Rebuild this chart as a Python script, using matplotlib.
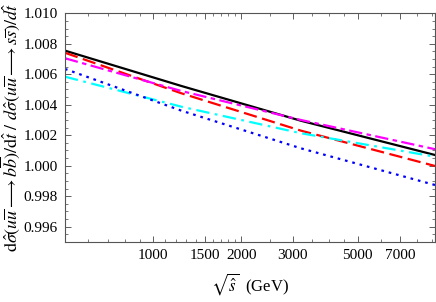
import numpy as np
import matplotlib
matplotlib.use('Agg')
import matplotlib.pyplot as plt
from matplotlib.ticker import FixedLocator, NullFormatter, MultipleLocator

plt.rcParams['font.family'] = 'Liberation Serif'
plt.rcParams['mathtext.fontset'] = 'stix'

# values
sqrt_s = [500, 1250, 3200, 9200]
black = [1.00755, 1.00523, 1.00295, 1.00070]
red = [1.00741, 1.00475, 1.00230, 0.99998]
magenta = [1.00705, 1.00490, 1.00300, 1.00108]
cyan = [1.00584, 1.00387, 1.00213, 1.00059]
blue = [1.00635, 1.00361, 1.00114, 0.99873]

x_major = [1000, 1500, 2000, 3000, 5000, 7000]
x_major_labels = ['1000', '1500', '2000', '3000', '5000', '7000']
x_minor = [600, 700, 800, 900, 1100, 1200, 1300, 1400, 1600, 1700, 1800, 1900,
           2500, 3500, 4000, 4500, 6000, 8000, 9000]

fig = plt.figure(figsize=(4.36, 3.02), dpi=100)
ax = fig.add_axes([0.149, 0.199, 0.849, 0.757])

lw = 1.6
ax.plot(sqrt_s, black, color='black', lw=lw)
ax.plot(sqrt_s, red, color='red', lw=lw, dashes=(6, 2.5))
ax.plot(sqrt_s, magenta, color='magenta', lw=lw, dashes=(6, 2, 2, 2))
ax.plot(sqrt_s, cyan, color='cyan', lw=lw, dashes=(6, 2.5, 1.2, 2.5))
ax.plot(sqrt_s, blue, color='blue', lw=lw, dashes=(1.2, 2.2))

ax.set_xscale('log')
ax.set_xlim(500, 9200)
ax.set_ylim(0.995, 1.010)

ax.xaxis.set_major_locator(FixedLocator(x_major))
ax.xaxis.set_minor_locator(FixedLocator(x_minor))
ax.set_xticklabels(x_major_labels)
ax.xaxis.set_minor_formatter(NullFormatter())
ax.yaxis.set_major_locator(MultipleLocator(0.002))
ax.yaxis.set_minor_locator(MultipleLocator(0.0005))
ax.yaxis.set_major_formatter(matplotlib.ticker.FormatStrFormatter('%.3f'))

ax.tick_params(which='both', direction='in', top=True, right=True, labelsize=11, pad=5, colors='#444444', labelcolor='black')
ax.tick_params(which='major', length=4, width=0.6)
ax.tick_params(which='minor', length=2, width=0.5)
for s in ax.spines.values():
    s.set_color('#555555')
    s.set_linewidth(0.8)

ax.set_xlabel(r'$\sqrt{\hat{s}}$  (GeV)', fontsize=12, labelpad=7)
ax.set_ylabel(r'$\mathrm{d}\hat{\sigma}(u\overline{u}\longrightarrow b\overline{b})/\mathrm{d}\hat{t}\ /\ d\hat{\sigma}(u\overline{u}\longrightarrow s\overline{s})/d\hat{t}$',
              fontsize=13, labelpad=1)

fig.savefig('out.png', dpi=100)
